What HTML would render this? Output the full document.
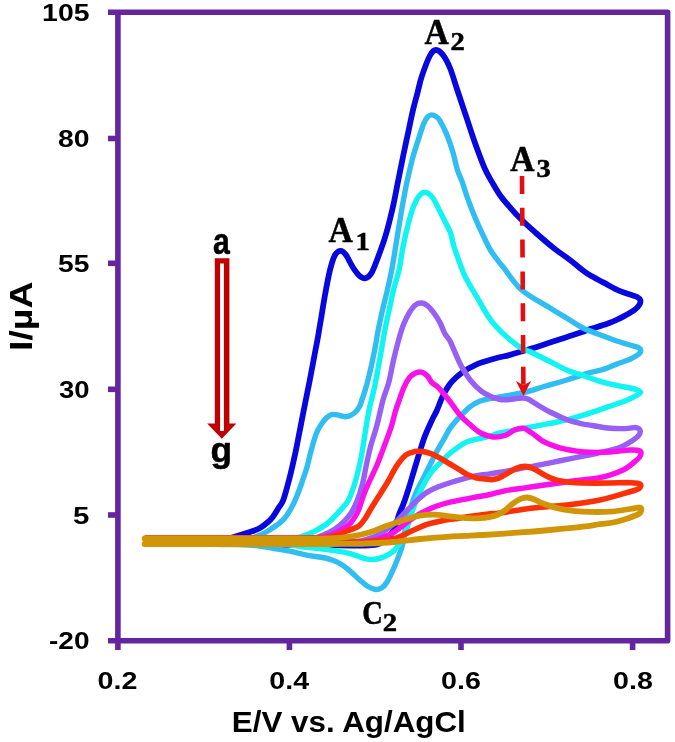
<!DOCTYPE html>
<html lang="en">
<head>
<meta charset="utf-8">
<title>Cyclic voltammograms</title>
<style>
html,body{margin:0;padding:0;background:#ffffff;}
body{width:675px;height:742px;overflow:hidden;}
svg{display:block;}
</style>
</head>
<body>
<svg width="675" height="742" viewBox="0 0 675 742">
<rect width="675" height="742" fill="#ffffff"/>
<g fill="none" stroke-linecap="round" stroke-linejoin="round">
<path d="M146.5 540.5C151.0 540.5 164.3 540.5 173.2 540.5C182.2 540.5 191.4 540.8 200.0 540.5C208.6 540.2 218.8 539.8 225.0 539.0C231.2 538.2 232.8 537.2 237.0 536.0C241.2 534.8 246.2 533.3 250.0 532.0C253.8 530.7 257.0 529.7 260.0 528.0C263.0 526.3 265.8 523.9 268.0 522.0C270.2 520.1 271.2 519.0 273.0 516.7C274.8 514.4 276.8 510.8 278.5 508.0C280.2 505.2 281.5 504.8 283.3 500.0C285.1 495.2 287.3 486.7 289.3 479.0C291.3 471.3 293.5 461.6 295.2 453.7C296.9 445.8 298.1 438.9 299.6 431.5C301.1 424.1 302.6 415.9 304.0 409.0C305.4 402.1 306.8 395.0 307.8 390.0C308.8 385.0 309.0 384.4 310.0 379.0C311.0 373.6 312.7 364.9 314.0 357.9C315.3 350.8 316.8 343.6 318.0 336.7C319.2 329.8 320.2 323.4 321.4 316.7C322.5 310.0 323.3 304.5 324.7 296.7C326.1 288.9 328.3 276.9 330.0 270.0C331.7 263.1 333.2 258.2 335.0 255.0C336.8 251.8 338.9 250.8 340.7 250.8C342.5 250.8 344.0 252.3 346.0 255.0C348.0 257.7 350.5 263.6 352.7 267.0C354.9 270.4 356.9 273.4 359.0 275.3C361.1 277.2 363.5 278.6 365.6 278.2C367.7 277.8 369.6 276.0 371.5 273.0C373.4 270.0 374.9 265.6 377.0 260.0C379.1 254.4 382.6 244.8 384.4 239.3C386.2 233.8 386.6 232.4 388.0 227.0C389.4 221.6 391.3 214.2 393.0 206.7C394.7 199.1 396.3 190.0 398.0 181.7C399.7 173.4 401.3 164.8 403.0 156.7C404.7 148.6 406.3 141.1 408.0 133.3C409.7 125.6 411.4 116.7 413.0 110.0C414.6 103.3 415.9 98.9 417.4 93.3C418.8 87.8 419.6 83.0 421.7 76.7C423.8 70.4 427.6 60.0 430.0 55.5C432.4 51.0 433.8 50.1 436.0 50.0C438.2 49.9 440.7 52.0 443.0 55.0C445.3 58.0 447.6 62.2 450.0 68.0C452.4 73.8 454.6 81.9 457.3 90.0C460.0 98.1 463.2 107.8 466.2 116.7C469.2 125.6 472.0 134.7 475.1 143.3C478.2 151.9 481.8 161.8 484.6 168.2C487.4 174.6 489.3 177.4 491.9 181.9C494.5 186.4 497.0 191.0 500.0 195.2C503.0 199.4 506.4 203.2 510.0 207.3C513.5 211.4 517.0 215.2 521.3 219.5C525.6 223.8 530.7 228.3 536.0 233.0C541.3 237.7 547.3 243.0 553.0 247.5C558.7 252.0 565.0 256.2 570.0 260.0C575.0 263.8 579.7 267.9 583.0 270.5C586.3 273.1 586.6 273.3 590.0 275.3C593.4 277.3 598.8 280.0 603.3 282.4C607.8 284.8 612.2 287.6 616.7 289.6C621.2 291.6 626.6 293.4 630.0 294.6C633.4 295.8 635.4 296.1 637.1 297.0C638.8 297.9 639.9 298.9 640.3 300.2C640.7 301.5 640.4 303.1 639.4 304.7C638.4 306.3 636.7 308.2 634.4 310.0C632.1 311.8 628.5 313.7 625.6 315.3C622.7 316.9 620.4 318.2 616.7 319.8C613.0 321.4 607.8 323.6 603.3 325.1C598.8 326.7 593.4 328.0 590.0 329.1C586.6 330.2 586.9 330.4 583.0 331.8C579.1 333.2 572.0 335.4 566.5 337.2C561.0 339.0 555.0 341.0 550.0 342.6C545.0 344.2 541.3 345.4 536.7 346.9C532.1 348.3 526.9 350.0 522.4 351.3C517.9 352.6 515.0 353.6 510.0 354.9C505.0 356.2 497.8 357.7 492.2 359.3C486.6 360.9 481.2 362.4 476.2 364.6C471.2 366.8 466.0 369.8 462.0 372.6C458.0 375.4 454.7 378.6 452.0 381.5C449.3 384.4 447.7 387.3 446.0 390.0C444.3 392.7 443.6 394.3 442.0 397.8C440.4 401.3 438.2 407.4 436.6 411.0C435.0 414.6 434.1 415.5 432.2 419.6C430.3 423.7 427.2 430.3 425.1 435.6C423.0 440.9 421.6 446.0 419.8 451.6C418.0 457.2 416.2 463.4 414.4 469.3C412.6 475.2 410.9 481.5 409.1 487.1C407.3 492.7 405.4 498.7 403.8 503.1C402.2 507.6 400.8 509.9 399.3 513.8C397.8 517.7 396.9 522.7 395.0 526.7C393.1 530.7 391.0 535.0 388.0 538.0C385.0 541.0 381.7 543.2 377.0 544.5C372.3 545.8 367.8 545.4 360.0 545.5C352.2 545.6 340.0 545.3 330.0 545.2C320.0 545.2 310.1 545.1 300.0 545.0C289.9 544.9 279.5 544.7 269.3 544.6C259.1 544.5 248.8 544.3 238.6 544.2C228.4 544.1 218.1 543.9 207.9 543.8C197.7 543.7 187.4 543.5 177.2 543.4C167.0 543.3 151.6 543.1 146.5 543.0" stroke="#0808de" stroke-width="5.8"/>
<path d="M146.5 540.5C151.7 540.5 167.3 540.5 177.7 540.5C188.1 540.5 198.4 540.5 208.8 540.5C219.2 540.5 232.3 541.1 240.0 540.5C247.7 539.9 250.6 538.5 255.0 537.0C259.4 535.5 262.0 534.5 266.7 531.7C271.4 528.9 278.9 524.0 283.0 520.0C287.1 516.0 289.3 511.4 291.6 507.5C293.9 503.6 294.9 500.9 296.7 496.5C298.5 492.1 300.7 485.9 302.4 481.0C304.1 476.1 305.5 472.3 307.0 467.0C308.5 461.7 310.0 454.7 311.5 449.3C313.0 443.9 314.5 438.3 316.0 434.4C317.5 430.4 318.7 428.3 320.4 425.6C322.1 422.9 324.3 419.9 326.3 418.0C328.3 416.1 330.0 414.8 332.2 414.4C334.4 414.0 337.1 415.1 339.6 415.5C342.1 415.9 344.5 417.1 347.0 416.7C349.5 416.3 352.3 414.7 354.4 413.0C356.5 411.3 358.3 408.6 359.6 406.3C360.9 404.0 361.1 402.1 362.2 399.0C363.2 395.9 364.5 392.6 365.9 387.8C367.3 383.0 368.9 376.4 370.4 370.0C371.9 363.6 373.4 356.2 374.8 349.3C376.2 342.4 377.1 335.4 378.5 328.5C379.9 321.6 381.5 314.2 383.0 307.8C384.5 301.4 385.9 296.5 387.4 290.0C388.9 283.5 390.5 276.1 391.9 268.9C393.3 261.7 394.4 254.1 395.6 246.7C396.8 239.3 398.1 231.8 399.3 224.4C400.5 217.0 401.6 209.6 403.0 202.2C404.4 194.8 405.7 187.6 407.4 180.0C409.1 172.4 410.9 164.3 413.0 156.7C415.1 149.1 418.2 139.9 420.0 134.4C421.8 128.9 422.4 126.7 423.6 123.8C424.9 120.9 426.2 118.5 427.5 117.0C428.8 115.5 430.2 115.0 431.6 114.9C433.0 114.8 434.5 115.6 435.8 116.5C437.1 117.4 437.8 117.2 439.6 120.2C441.4 123.2 444.5 129.1 446.7 134.4C448.9 139.7 451.1 146.2 452.9 152.2C454.7 158.2 456.1 165.6 457.6 170.5C459.2 175.4 460.4 177.1 462.2 181.9C463.9 186.8 465.9 193.4 468.1 199.6C470.3 205.8 473.1 213.0 475.6 218.9C478.1 224.8 480.5 230.0 483.0 235.2C485.5 240.4 487.6 245.3 490.4 250.0C493.2 254.7 497.8 260.4 500.0 263.3C502.2 266.2 499.9 263.1 503.5 267.5C507.1 271.9 514.0 283.2 521.7 290.0C529.5 296.8 542.5 303.3 550.0 308.0C557.5 312.7 561.0 314.7 566.5 318.0C572.0 321.3 576.9 325.0 583.0 328.0C589.1 331.0 597.7 333.9 603.3 336.1C608.9 338.3 612.2 339.5 616.7 341.0C621.2 342.5 626.5 343.9 630.0 345.0C633.5 346.1 636.2 346.5 638.0 347.4C639.8 348.3 640.7 349.4 640.8 350.5C640.9 351.6 640.3 352.9 638.5 354.3C636.7 355.8 633.6 357.6 630.0 359.2C626.4 360.8 621.2 362.4 616.7 364.1C612.2 365.8 607.8 368.0 603.3 369.4C598.8 370.8 596.1 370.8 590.0 372.6C583.9 374.4 574.3 377.7 566.7 380.0C559.1 382.3 551.7 384.3 544.2 386.5C536.7 388.7 530.2 391.1 521.7 393.0C513.2 394.9 499.9 396.7 493.0 398.0C486.1 399.3 484.1 399.5 480.2 401.0C476.3 402.5 473.2 404.3 469.6 407.1C466.1 409.9 462.2 414.2 458.9 417.8C455.6 421.4 452.7 424.5 450.0 428.4C447.3 432.2 445.3 436.8 442.9 440.9C440.5 445.0 437.9 449.4 435.8 453.3C433.7 457.2 432.5 459.9 430.4 464.0C428.3 468.1 425.7 473.5 423.3 478.2C420.9 482.9 418.3 487.6 416.2 492.4C414.1 497.1 412.6 501.4 410.9 506.7C409.2 512.0 407.4 517.6 406.0 524.0C404.6 530.4 404.4 538.0 402.5 545.0C400.6 552.0 397.3 559.8 394.7 566.0C392.1 572.2 389.2 578.3 387.0 582.0C384.8 585.7 383.4 586.8 381.5 588.0C379.6 589.2 377.8 589.8 375.5 589.5C373.2 589.2 370.6 588.0 368.0 586.5C365.4 585.0 363.3 583.0 360.0 580.2C356.7 577.4 352.1 572.6 348.4 569.6C344.7 566.6 341.6 564.3 337.8 562.4C334.0 560.5 330.3 559.2 325.3 558.0C320.3 556.8 313.5 556.4 307.6 555.3C301.7 554.2 295.7 552.4 289.8 551.2C283.9 550.0 278.6 549.2 272.0 548.2C265.4 547.2 258.0 545.6 250.0 545.0C242.0 544.4 232.8 544.7 224.1 544.5C215.5 544.3 206.9 544.2 198.2 544.0C189.6 543.8 181.0 543.7 172.4 543.5C163.8 543.3 150.8 543.1 146.5 543.0" stroke="#30bef2" stroke-width="5.4"/>
<path d="M146.5 540.5C152.1 540.5 168.8 540.5 179.9 540.5C191.0 540.5 202.1 540.5 213.2 540.5C224.4 540.5 235.5 540.5 246.6 540.5C257.8 540.5 271.1 541.1 280.0 540.5C288.9 539.9 294.5 538.4 300.0 537.0C305.5 535.6 308.6 534.2 313.0 532.0C317.4 529.8 322.2 527.5 326.7 524.0C331.2 520.5 336.4 514.7 340.0 510.7C343.6 506.7 346.0 504.8 348.5 500.0C351.0 495.2 353.2 488.5 355.2 482.0C357.2 475.5 358.9 467.9 360.4 461.0C361.9 454.1 362.9 447.3 364.0 440.4C365.1 433.5 366.3 425.5 367.3 419.6C368.3 413.7 369.0 410.1 370.2 404.8C371.4 399.5 373.1 393.6 374.4 387.8C375.7 382.0 376.6 376.4 377.8 370.0C379.0 363.6 380.3 356.2 381.5 349.3C382.7 342.4 383.8 335.4 385.2 328.5C386.6 321.6 388.2 314.2 389.6 307.8C391.0 301.4 391.9 296.5 393.5 290.0C395.1 283.5 397.7 276.1 399.3 268.9C400.9 261.7 401.5 254.1 403.0 246.7C404.5 239.3 406.3 231.3 408.1 224.4C409.9 217.5 412.0 210.1 414.0 205.2C416.0 200.3 418.0 197.0 420.0 194.8C422.0 192.7 423.9 191.8 426.0 192.3C428.1 192.8 430.5 194.9 432.6 197.6C434.7 200.3 436.5 204.7 438.5 208.5C440.5 212.3 442.4 216.4 444.4 220.4C446.4 224.4 448.8 228.2 450.4 232.6C452.0 237.0 452.6 242.1 454.1 247.0C455.6 251.9 457.5 256.9 459.3 261.9C461.1 266.8 462.3 270.9 465.2 276.7C468.1 282.5 472.1 289.0 476.7 296.7C481.3 304.4 486.3 314.9 493.0 323.0C499.7 331.1 510.0 340.0 516.7 345.0C523.4 350.0 527.5 350.2 533.0 353.0C538.5 355.8 544.2 358.7 549.9 361.5C555.5 364.3 561.1 367.6 566.7 370.0C572.3 372.4 577.8 373.8 583.4 375.6C588.9 377.5 594.4 379.7 600.0 381.3C605.6 382.9 611.7 384.3 616.7 385.4C621.7 386.5 626.8 387.3 630.0 388.0C633.2 388.7 634.4 388.8 636.2 389.5C638.0 390.2 640.6 391.2 640.6 392.2C640.6 393.2 638.7 394.2 636.2 395.6C633.7 397.0 630.3 398.8 625.6 400.7C620.9 402.6 613.7 404.8 607.8 406.9C601.9 408.9 596.9 410.8 590.0 413.0C583.1 415.2 573.4 418.3 566.7 420.0C560.0 421.7 555.5 422.2 549.9 423.4C544.2 424.5 541.3 425.1 533.0 426.7C524.7 428.3 507.2 431.4 500.0 433.0C492.8 434.6 493.9 435.2 490.0 436.2C486.1 437.2 480.0 438.4 476.7 439.2C473.4 440.0 472.4 440.0 470.0 440.8C467.6 441.6 465.7 442.1 462.4 444.2C459.1 446.3 453.6 450.3 450.0 453.3C446.4 456.3 444.1 459.2 441.1 462.2C438.1 465.2 434.9 467.8 432.2 471.1C429.5 474.4 427.5 477.7 425.1 481.8C422.7 485.9 420.1 491.3 418.0 496.0C415.9 500.7 414.3 505.5 412.7 510.2C411.1 514.9 409.7 519.9 408.2 524.4C406.7 528.9 405.9 532.6 403.5 537.0C401.1 541.4 397.3 547.4 394.0 550.7C390.7 554.0 386.7 555.6 383.5 557.0C380.3 558.4 377.9 559.0 375.0 559.3C372.1 559.6 368.5 559.2 366.0 558.8C363.5 558.4 362.6 557.9 360.0 557.0C357.4 556.1 354.2 554.6 350.2 553.6C346.2 552.6 341.9 551.8 336.0 550.9C330.1 550.0 320.7 548.7 314.7 548.0C308.7 547.3 305.8 547.2 300.0 546.5C294.2 545.8 288.9 544.5 280.0 544.0C271.1 543.5 257.8 543.8 246.6 543.8C235.5 543.7 224.4 543.6 213.2 543.5C202.1 543.4 191.0 543.3 179.9 543.2C168.8 543.2 152.1 543.0 146.5 543.0" stroke="#12f4f2" stroke-width="5.4"/>
<path d="M146.5 540.5C151.6 540.5 167.0 540.5 177.2 540.5C187.4 540.5 197.7 540.5 207.9 540.5C218.1 540.5 228.4 540.5 238.6 540.5C248.8 540.5 259.1 540.5 269.3 540.5C279.5 540.5 291.9 541.1 300.0 540.5C308.1 539.9 313.0 538.4 318.0 537.0C323.0 535.6 326.3 534.0 330.0 532.0C333.7 530.0 336.6 528.2 340.0 525.3C343.4 522.4 347.3 518.6 350.2 514.4C353.1 510.2 355.2 505.3 357.3 500.2C359.4 495.1 360.9 490.4 362.5 484.0C364.1 477.6 365.6 468.3 367.0 462.0C368.4 455.7 369.0 452.2 370.7 446.0C372.4 439.8 374.9 432.7 377.0 425.0C379.1 417.3 381.0 407.2 383.0 400.0C385.0 392.8 387.2 388.4 388.9 381.9C390.6 375.4 391.7 368.0 393.3 361.1C394.9 354.2 396.8 346.6 398.5 340.4C400.2 334.2 401.8 328.7 403.7 324.0C405.6 319.3 407.6 315.4 409.6 312.2C411.6 309.0 413.6 306.3 415.6 304.8C417.6 303.3 419.5 302.9 421.5 303.0C423.5 303.1 425.4 304.1 427.4 305.6C429.4 307.1 431.2 309.4 433.3 312.2C435.4 315.0 438.1 319.1 440.0 322.6C441.9 326.1 442.8 329.9 444.5 333.0C446.2 336.1 448.3 337.8 450.0 341.0C451.7 344.2 453.0 348.0 454.9 352.2C456.8 356.4 458.8 361.6 461.5 366.4C464.2 371.2 467.6 376.9 471.0 381.0C474.4 385.1 478.1 388.6 481.6 391.3C485.1 394.0 489.5 395.7 492.2 397.0C494.9 398.3 495.8 398.5 498.0 399.0C500.2 399.5 502.8 399.8 505.6 399.8C508.4 399.8 512.0 399.1 515.0 398.8C518.0 398.5 521.0 397.9 523.3 398.0C525.5 398.1 526.9 398.6 528.5 399.3C530.1 400.0 530.9 400.7 533.0 402.0C535.1 403.3 538.2 405.3 541.0 407.0C543.8 408.7 545.5 409.8 550.0 412.0C554.5 414.2 562.3 418.0 567.8 420.0C573.3 422.0 579.3 423.1 583.0 424.0C586.7 424.9 585.9 424.4 590.0 425.1C594.1 425.8 601.9 427.4 607.8 428.0C613.7 428.6 620.9 428.7 625.6 428.6C630.3 428.5 633.8 427.2 636.2 427.6C638.7 428.0 640.0 429.6 640.3 431.0C640.6 432.4 639.6 434.4 638.0 436.2C636.4 438.0 633.3 440.0 630.9 441.6C628.5 443.2 626.2 444.5 623.8 445.6C621.4 446.8 620.7 447.4 616.7 448.5C612.7 449.6 605.6 451.2 600.0 452.5C594.4 453.8 589.9 454.8 583.0 456.2C576.1 457.6 565.9 459.6 558.9 461.0C551.9 462.4 548.1 463.2 541.1 464.6C534.1 466.0 525.2 467.8 516.7 469.3C508.2 470.8 496.7 472.8 490.0 473.8C483.3 474.9 481.3 474.7 476.7 475.6C472.1 476.5 466.8 477.9 462.4 479.1C457.9 480.3 454.1 481.4 450.0 482.7C445.9 484.0 441.5 485.5 437.6 487.1C433.8 488.7 430.2 490.3 426.9 492.4C423.6 494.5 421.0 496.9 418.0 499.6C415.0 502.3 411.8 505.7 409.1 508.4C406.4 511.1 404.4 513.2 402.0 515.6C399.6 518.0 397.3 520.6 394.9 522.7C392.5 524.9 391.1 526.2 387.8 528.5C384.5 530.8 381.3 534.1 375.0 536.5C368.7 538.9 359.8 541.9 350.0 543.0C340.2 544.1 327.4 543.0 316.1 543.0C304.8 543.0 293.5 543.0 282.2 543.0C270.9 543.0 259.6 543.0 248.2 543.0C236.9 543.0 225.6 543.0 214.3 543.0C203.0 543.0 191.7 543.0 180.4 543.0C169.1 543.0 152.2 543.0 146.5 543.0" stroke="#985ff4" stroke-width="5.4"/>
<path d="M146.5 537.6C151.3 537.6 165.6 537.6 175.1 537.6C184.6 537.6 194.1 537.6 203.7 537.6C213.2 537.6 222.7 537.6 232.2 537.6C241.8 537.6 251.3 537.6 260.8 537.6C270.4 537.6 279.9 537.6 289.4 537.6C298.9 537.6 310.9 538.1 318.0 537.6C325.1 537.1 328.3 535.7 332.0 534.5C335.7 533.3 337.0 532.4 340.0 530.5C343.0 528.6 347.3 526.3 350.2 523.3C353.1 520.3 355.5 516.0 357.3 512.7C359.1 509.4 359.7 506.7 360.8 503.5C361.9 500.3 363.0 496.6 364.2 493.5C365.4 490.4 365.7 489.6 367.8 484.8C369.9 480.1 374.1 471.8 377.0 465.0C379.9 458.2 382.6 450.5 385.0 444.0C387.4 437.5 389.8 431.5 391.5 426.0C393.2 420.5 394.2 415.3 395.5 411.0C396.8 406.7 397.9 403.9 399.3 400.0C400.7 396.1 402.0 391.6 403.7 387.8C405.4 384.0 407.6 379.9 409.6 377.4C411.6 374.9 413.6 373.9 415.6 373.0C417.6 372.1 419.5 371.7 421.5 372.2C423.5 372.7 425.7 374.3 427.4 376.0C429.1 377.7 430.4 381.0 431.9 382.6C433.4 384.2 434.9 384.5 436.3 385.6C437.7 386.7 437.7 386.7 440.0 389.3C442.3 391.9 446.7 397.2 450.0 401.5C453.3 405.8 456.7 411.1 460.0 415.0C463.3 418.9 466.6 421.6 470.0 424.6C473.4 427.6 476.8 430.9 480.7 433.0C484.6 435.1 489.0 436.6 493.1 437.0C497.2 437.4 502.1 436.4 505.6 435.2C509.2 434.0 511.4 431.2 514.4 430.0C517.3 428.8 520.3 427.6 523.3 428.2C526.3 428.8 528.6 431.0 532.2 433.3C535.8 435.6 540.2 439.8 544.7 442.2C549.2 444.6 553.6 446.1 558.9 447.6C564.2 449.1 571.5 450.3 576.7 451.1C581.9 451.9 584.5 452.2 590.0 452.3C595.5 452.4 603.3 452.4 610.0 452.0C616.7 451.6 625.0 450.2 630.0 450.0C635.0 449.8 638.2 450.1 640.0 451.0C641.8 451.9 641.0 454.0 640.5 455.5C640.0 457.0 639.6 457.6 636.7 460.0C633.8 462.4 629.1 467.1 623.0 470.0C616.9 472.9 607.7 475.9 600.0 477.6C592.3 479.4 583.6 479.6 576.7 480.5C569.9 481.4 564.8 482.2 558.9 483.0C553.0 483.8 547.0 484.7 541.1 485.5C535.2 486.3 529.3 487.2 523.4 488.1C517.4 488.9 511.2 489.5 505.6 490.6C500.0 491.7 494.8 493.4 490.0 494.5C485.2 495.6 481.3 496.0 476.7 496.9C472.1 497.8 466.8 498.7 462.4 499.6C457.9 500.5 454.1 501.2 450.0 502.2C445.9 503.2 441.5 504.5 437.6 505.8C433.8 507.1 430.2 508.7 426.9 510.2C423.6 511.7 421.0 512.9 418.0 514.7C415.0 516.5 411.8 519.0 409.1 520.9C406.4 522.8 405.1 524.0 402.0 526.2C398.9 528.4 396.0 531.5 390.7 534.0C385.4 536.5 378.8 539.8 370.0 541.0C361.2 542.2 348.7 541.2 338.1 541.3C327.4 541.4 316.8 541.5 306.1 541.6C295.5 541.7 284.9 541.8 274.2 541.9C263.6 542.0 252.9 542.0 242.3 542.1C231.6 542.2 221.0 542.3 210.4 542.4C199.7 542.5 189.1 542.6 178.4 542.7C167.8 542.8 151.8 543.0 146.5 543.0" stroke="#fa10e8" stroke-width="5.4"/>
<path d="M146.5 538.0C151.4 538.0 166.0 538.0 175.8 538.0C185.5 538.0 195.2 538.0 205.0 538.0C214.8 538.0 224.5 538.0 234.2 538.0C244.0 538.0 253.8 538.0 263.5 538.0C273.2 538.0 283.0 538.0 292.8 538.0C302.5 538.0 315.0 538.3 322.0 538.0C329.0 537.7 330.9 537.2 335.0 536.0C339.1 534.8 343.3 532.4 346.7 531.0C350.1 529.6 353.4 528.8 355.6 527.8C357.8 526.8 358.4 526.7 360.0 525.1C361.6 523.5 363.6 520.8 365.3 518.3C367.0 515.8 367.7 513.9 370.0 510.2C372.3 506.5 375.9 500.7 378.9 496.0C381.9 491.3 384.8 486.8 387.8 481.8C390.8 476.8 393.7 470.2 396.7 465.8C399.7 461.4 402.7 457.5 405.6 455.1C408.6 452.7 411.4 452.2 414.4 451.6C417.3 451.0 420.3 451.2 423.3 451.6C426.3 452.0 429.2 453.0 432.2 454.2C435.2 455.4 438.1 457.1 441.1 458.7C444.1 460.3 447.0 462.2 450.0 464.0C453.0 465.8 455.9 467.5 458.9 469.3C461.9 471.1 464.8 473.3 467.8 474.7C470.8 476.1 473.3 477.1 476.7 477.9C480.1 478.6 485.3 478.9 488.0 479.2C490.7 479.5 491.1 479.9 493.1 479.6C495.1 479.3 497.9 478.5 500.0 477.6C502.1 476.7 502.9 475.9 505.6 474.4C508.3 472.8 513.0 469.6 516.2 468.3C519.5 467.0 522.1 466.3 525.1 466.4C528.1 466.5 530.7 467.6 534.0 469.0C537.3 470.4 541.2 473.3 544.7 475.1C548.2 476.9 551.1 478.4 555.3 479.6C559.4 480.8 565.0 481.6 569.6 482.2C574.2 482.8 576.3 482.9 583.0 483.0C589.7 483.1 602.2 483.1 610.0 483.0C617.8 482.9 625.0 482.5 630.0 482.7C635.0 482.9 638.5 483.0 640.0 484.0C641.5 485.0 640.7 487.2 639.0 488.5C637.3 489.8 636.5 489.8 630.0 491.7C623.5 493.6 610.5 497.8 600.0 500.0C589.5 502.2 577.9 503.7 566.7 505.0C555.5 506.3 544.1 506.7 533.0 508.0C521.9 509.3 507.2 512.0 500.0 513.0C492.8 514.0 493.9 513.4 490.0 513.8C486.1 514.2 481.9 514.9 476.7 515.6C471.5 516.3 464.8 517.3 458.9 518.2C453.0 519.1 446.4 519.9 441.1 520.9C435.8 521.9 431.3 522.9 426.9 524.4C422.4 525.9 418.9 527.8 414.4 529.8C409.9 531.8 404.4 534.8 400.0 536.5C395.6 538.2 394.7 539.1 388.0 540.0C381.3 540.9 369.8 541.6 360.0 542.0C350.2 542.4 339.7 542.1 329.5 542.1C319.3 542.2 309.2 542.2 299.0 542.3C288.8 542.3 278.7 542.4 268.5 542.4C258.3 542.5 248.2 542.5 238.0 542.6C227.8 542.6 217.7 542.7 207.5 542.7C197.3 542.8 187.2 542.8 177.0 542.9C166.8 542.9 151.6 543.0 146.5 543.0" stroke="#fb3008" stroke-width="5.6"/>
<path d="M144.6 538.5C149.8 538.5 165.2 538.5 175.5 538.5C185.8 538.5 196.1 538.5 206.4 538.5C216.7 538.5 227.0 538.5 237.3 538.5C247.6 538.5 257.9 538.5 268.2 538.5C278.5 538.5 288.8 538.5 299.1 538.5C309.4 538.5 321.2 538.9 330.0 538.5C338.8 538.1 345.3 537.3 352.0 536.3C358.7 535.2 364.0 534.0 370.0 532.2C376.0 530.4 381.9 527.7 387.8 525.6C393.7 523.5 400.3 521.1 405.6 519.4C410.9 517.7 415.1 516.4 419.8 515.6C424.5 514.8 429.0 514.6 434.0 514.7C439.0 514.8 444.4 515.8 450.0 516.4C455.6 517.0 462.8 517.9 467.8 518.2C472.8 518.5 476.3 518.4 480.0 518.2C483.7 518.0 487.0 517.5 490.0 516.9C493.0 516.3 495.4 515.7 498.0 514.5C500.6 513.3 503.1 511.6 505.6 509.8C508.1 508.0 510.6 505.3 513.0 503.5C515.4 501.7 517.7 500.2 520.0 499.2C522.3 498.2 524.6 497.5 526.9 497.5C529.2 497.5 531.6 498.3 534.0 499.2C536.4 500.1 537.8 501.4 541.1 502.7C544.4 504.0 549.5 505.9 553.6 507.1C557.8 508.3 561.1 509.0 566.0 509.8C570.9 510.6 575.7 511.4 583.0 511.7C590.3 512.0 602.2 512.1 610.0 511.7C617.8 511.2 625.0 509.7 630.0 509.0C635.0 508.3 638.2 507.2 640.0 507.5C641.8 507.8 641.5 509.8 641.0 511.0C640.5 512.2 640.8 513.2 636.7 515.0C632.7 516.8 622.8 520.2 616.7 521.7C610.6 523.2 605.5 523.4 599.9 524.2C594.2 525.0 591.3 525.7 583.0 526.7C574.7 527.7 561.0 529.0 550.0 530.0C539.0 531.0 527.9 531.9 516.7 532.7C505.5 533.5 491.6 534.5 483.0 535.0C474.4 535.5 470.9 535.6 464.9 535.9C458.8 536.2 454.2 536.3 446.7 536.8C439.2 537.3 428.9 538.1 420.0 539.0C411.1 539.9 401.9 541.2 393.0 542.0C384.1 542.8 374.1 543.2 366.7 543.5C359.3 543.8 354.5 543.7 348.4 543.8C342.2 543.8 338.2 544.0 330.0 544.0C321.8 544.0 309.4 544.0 299.1 544.0C288.8 544.0 278.5 544.0 268.2 544.0C257.9 544.0 247.6 544.0 237.3 544.0C227.0 544.0 216.7 544.0 206.4 544.0C196.1 544.0 185.8 544.0 175.5 544.0C165.2 544.0 149.8 544.0 144.6 544.0" stroke="#d09608" stroke-width="5.8"/>
</g>
<g stroke="#65259e" fill="none" stroke-width="5.6">
<path d="M108 12.3H667.6V640.8H108" stroke-linejoin="round"/>
<path d="M117.9 12.3V650"/>
<path d="M108 138.5H118"/>
<path d="M108 263.3H118"/>
<path d="M108 389.3H118"/>
<path d="M108 515.0H118"/>
<path d="M289.4 640V650"/>
<path d="M461.0 640V650"/>
<path d="M632.6 640V650"/>
</g>
<g>
<path d="M214.8 258.2H229.4V423.5H236.3L221.8 438.8L207.2 423.5H214.8Z" fill="#c00000"/>
<path d="M220.1 263.5H223.9V431H220.1Z" fill="#ffffff"/>
</g>
<g stroke="#e20e12" fill="#e20e12">
<path d="M522 176L523.4 385" stroke-width="4.6" stroke-dasharray="18 13.8" fill="none"/>
<path d="M515.9 381L523.5 396L531.1 381L523.5 385.2Z" stroke="none"/>
</g>
<g>
<text x="42.1" y="21.0" font-size="24.0" font-family="'Liberation Sans', 'DejaVu Sans', sans-serif" font-weight="700" text-anchor="start" textLength="47.4" lengthAdjust="spacingAndGlyphs" fill="#000" >105</text>
<text x="57.9" y="147.0" font-size="24.0" font-family="'Liberation Sans', 'DejaVu Sans', sans-serif" font-weight="700" text-anchor="start" textLength="31.6" lengthAdjust="spacingAndGlyphs" fill="#000" >80</text>
<text x="58.1" y="272.3" font-size="24.0" font-family="'Liberation Sans', 'DejaVu Sans', sans-serif" font-weight="700" text-anchor="start" textLength="31.4" lengthAdjust="spacingAndGlyphs" fill="#000" >55</text>
<text x="58.9" y="397.8" font-size="24.0" font-family="'Liberation Sans', 'DejaVu Sans', sans-serif" font-weight="700" text-anchor="start" textLength="30.6" lengthAdjust="spacingAndGlyphs" fill="#000" >30</text>
<text x="73.1" y="524.0" font-size="24.0" font-family="'Liberation Sans', 'DejaVu Sans', sans-serif" font-weight="700" text-anchor="start" textLength="16.4" lengthAdjust="spacingAndGlyphs" fill="#000" >5</text>
<text x="49.0" y="649.2" font-size="24.0" font-family="'Liberation Sans', 'DejaVu Sans', sans-serif" font-weight="700" text-anchor="start" textLength="40.5" lengthAdjust="spacingAndGlyphs" fill="#000" >-20</text>
<text x="97.6" y="688.8" font-size="24.0" font-family="'Liberation Sans', 'DejaVu Sans', sans-serif" font-weight="700" text-anchor="start" textLength="39.8" lengthAdjust="spacingAndGlyphs" fill="#000" >0.2</text>
<text x="269.3" y="688.8" font-size="24.0" font-family="'Liberation Sans', 'DejaVu Sans', sans-serif" font-weight="700" text-anchor="start" textLength="39.8" lengthAdjust="spacingAndGlyphs" fill="#000" >0.4</text>
<text x="441.1" y="688.8" font-size="24.0" font-family="'Liberation Sans', 'DejaVu Sans', sans-serif" font-weight="700" text-anchor="start" textLength="39.8" lengthAdjust="spacingAndGlyphs" fill="#000" >0.6</text>
<text x="613.1" y="688.8" font-size="24.0" font-family="'Liberation Sans', 'DejaVu Sans', sans-serif" font-weight="700" text-anchor="start" textLength="39.8" lengthAdjust="spacingAndGlyphs" fill="#000" >0.8</text>
<text x="231.8" y="731.5" font-size="30.0" font-family="'Liberation Sans', 'DejaVu Sans', sans-serif" font-weight="700" text-anchor="start" textLength="234.0" lengthAdjust="spacingAndGlyphs" fill="#000" >E/V vs. Ag/AgCl</text>
<g transform="translate(32 351) rotate(-90)"><text x="0.0" y="0.0" font-size="30.5" font-family="'Liberation Sans', 'DejaVu Sans', sans-serif" font-weight="700" text-anchor="start" textLength="69.5" lengthAdjust="spacingAndGlyphs" fill="#000" >I/µA</text></g>
<text x="212.9" y="253.7" font-size="36.0" font-family="'Liberation Sans', 'DejaVu Sans', sans-serif" font-weight="700" text-anchor="start" textLength="16.8" lengthAdjust="spacingAndGlyphs" fill="#000" stroke="#000" stroke-width="0.5">a</text>
<text x="210.6" y="462.0" font-size="34.5" font-family="'Liberation Sans', 'DejaVu Sans', sans-serif" font-weight="700" text-anchor="start" textLength="21.6" lengthAdjust="spacingAndGlyphs" fill="#000" stroke="#000" stroke-width="0.5">g</text>
<text x="328.4" y="242.4" font-size="36.0" font-family="'Liberation Serif', 'DejaVu Serif', serif" font-weight="700" text-anchor="start" textLength="24.3" lengthAdjust="spacingAndGlyphs" fill="#000" stroke="#000" stroke-width="0.5">A</text><text x="355.5" y="250.4" font-size="24.5" font-family="'Liberation Serif', 'DejaVu Serif', serif" font-weight="700" text-anchor="start" textLength="14.3" lengthAdjust="spacingAndGlyphs" fill="#000" stroke="#000" stroke-width="0.5">1</text>
<text x="424.5" y="43.8" font-size="36.0" font-family="'Liberation Serif', 'DejaVu Serif', serif" font-weight="700" text-anchor="start" textLength="24.3" lengthAdjust="spacingAndGlyphs" fill="#000" stroke="#000" stroke-width="0.5">A</text><text x="450.6" y="50.2" font-size="24.5" font-family="'Liberation Serif', 'DejaVu Serif', serif" font-weight="700" text-anchor="start" textLength="14.3" lengthAdjust="spacingAndGlyphs" fill="#000" stroke="#000" stroke-width="0.5">2</text>
<text x="510.2" y="170.7" font-size="36.0" font-family="'Liberation Serif', 'DejaVu Serif', serif" font-weight="700" text-anchor="start" textLength="24.3" lengthAdjust="spacingAndGlyphs" fill="#000" stroke="#000" stroke-width="0.5">A</text><text x="536.6" y="177.4" font-size="24.5" font-family="'Liberation Serif', 'DejaVu Serif', serif" font-weight="700" text-anchor="start" textLength="14.3" lengthAdjust="spacingAndGlyphs" fill="#000" stroke="#000" stroke-width="0.5">3</text>
<text x="362.3" y="624.0" font-size="34.5" font-family="'Liberation Serif', 'DejaVu Serif', serif" font-weight="700" text-anchor="start" textLength="20.6" lengthAdjust="spacingAndGlyphs" fill="#000" stroke="#000" stroke-width="0.5">C</text><text x="382.8" y="631.1" font-size="24.5" font-family="'Liberation Serif', 'DejaVu Serif', serif" font-weight="700" text-anchor="start" textLength="14.3" lengthAdjust="spacingAndGlyphs" fill="#000" stroke="#000" stroke-width="0.5">2</text>
</g>
</svg>
</body>
</html>
